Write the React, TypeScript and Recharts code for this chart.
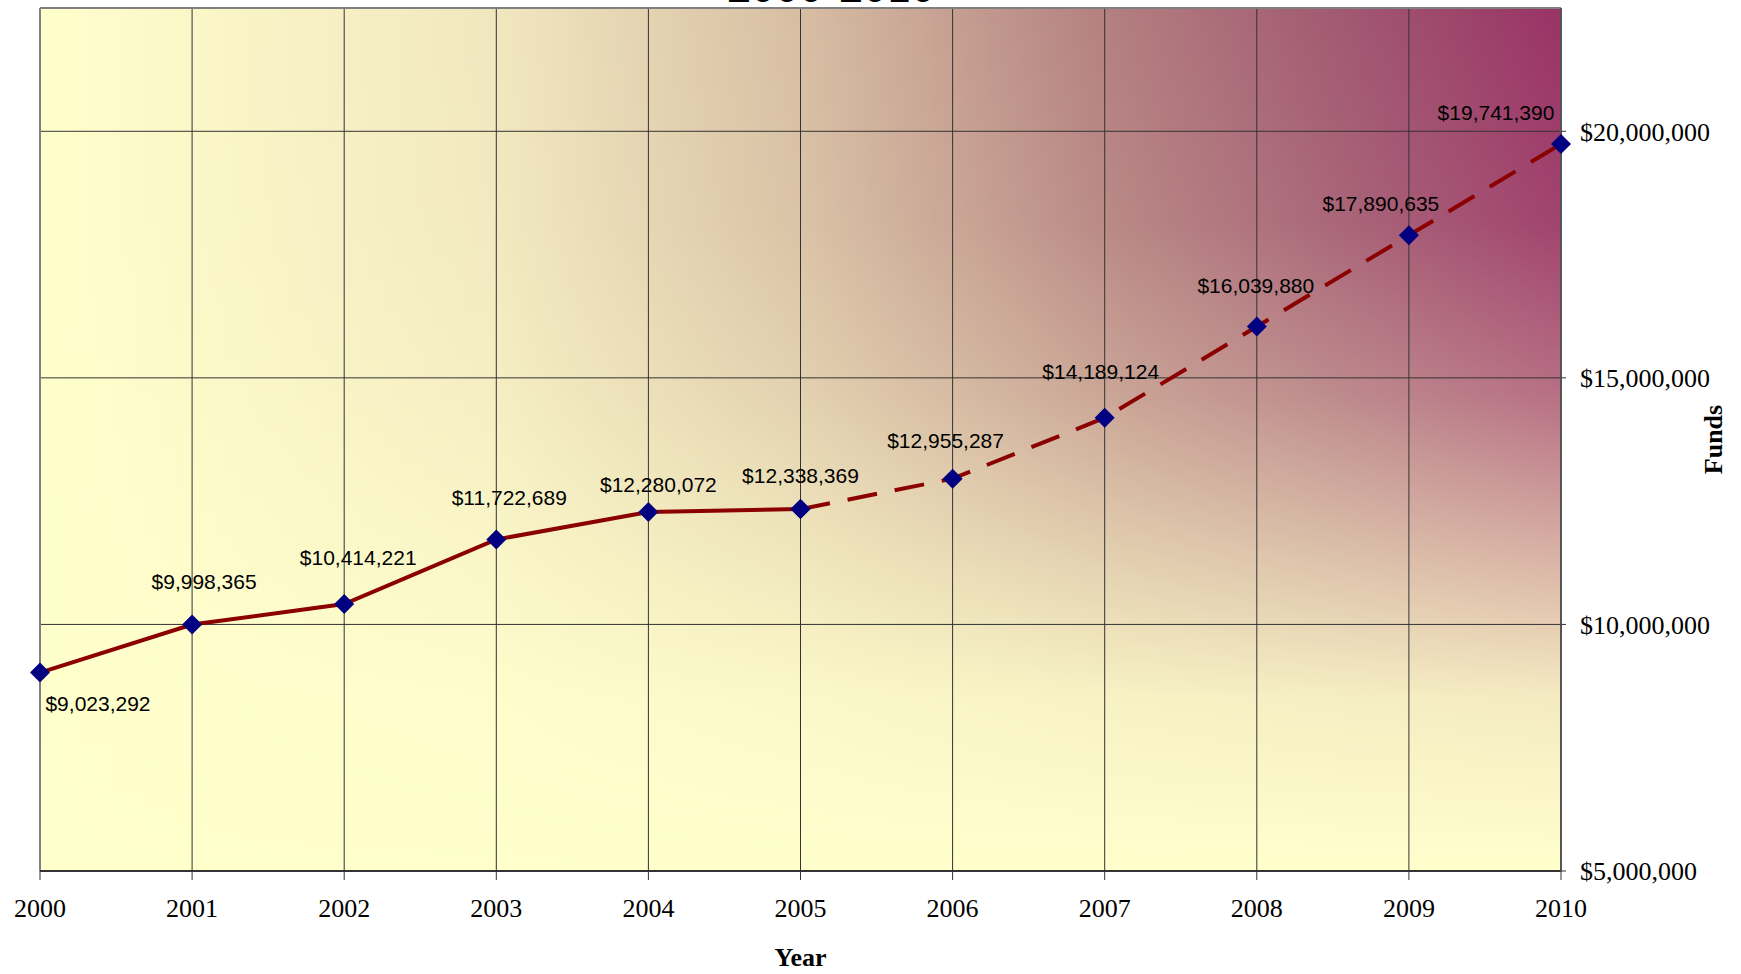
import React from "react";
import {
  LineChart,
  Line,
  XAxis,
  YAxis,
  CartesianGrid,
  ReferenceLine,
  LabelList,
  Label,
  Customized,
} from "recharts";

// fund values by year, solid part = actual, dashed part = projected
const years = ["2000", "2001", "2002", "2003", "2004", "2005", "2006", "2007", "2008", "2009", "2010"];
const actualFunds = [9023292, 9998365, 10414221, 11722689, 12280072, 12338369, null, null, null, null, null];
const projectedFunds = [null, null, null, null, null, 12338369, 12955287, 14189124, 16039880, 17890635, 19741390];
const fundTicks = [5000000, 10000000, 15000000, 20000000];
const title = "2000-2010";

// hand placed label offsets (dx, dy of label centre vs. point)
const labelNudge: [number, number][] = [
  [58, 31], [12, -43], [14, -46], [13, -42], [10, -27], [0, -33],
  [-7, -38], [-4, -46], [-1, -41], [-28, -32], [-65, -31],
];

const data = years.map((year, i) => ({
  year,
  actual: actualFunds[i],
  projected: projectedFunds[i],
}));

const money = (v: number) => "$" + v.toLocaleString("en-US");

const LINE = "#8b0000";
const serif = "'Liberation Serif', 'Times New Roman', serif";
const sans = "'Liberation Sans', Arial, sans-serif";

const Diamond = (props: any) => {
  const { cx, cy, index } = props;
  if (cx == null || cy == null || props.value == null) return <g key={index} />;
  const r = 10;
  return (
    <polygon
      key={index}
      points={`${cx},${cy - r} ${cx + r},${cy} ${cx},${cy + r} ${cx - r},${cy}`}
      fill="#000080"
    />
  );
};

const makeLabel = (skip: number[]) => (props: any) => {
  const { x, y, value, index } = props;
  if (value == null || skip.includes(index)) return null;
  const [dx, dy] = labelNudge[index];
  return (
    <text
      x={x + dx}
      y={y + dy}
      dy="0.35em"
      textAnchor="middle"
      fontFamily={sans}
      fontSize={21}
      fill="#000"
    >
      {money(value)}
    </text>
  );
};

const Title = () => (
  <text x={831} y={2} textAnchor="middle" fontFamily={serif} fontSize={48} fontWeight="bold" fill="#000">
    {title}
  </text>
);

export default function App() {
  return (
    <div style={{ position: "absolute", left: 0, top: 0, background: "#fff" }}>
      <LineChart
        width={1741}
        height={974}
        data={data}
        margin={{ top: 8, right: 20, bottom: 13, left: 40 }}
      >
        <defs>
          <linearGradient id="hGrad" x1="0" y1="0" x2="1" y2="0">
            <stop offset="0" stopColor="#ffffcc" />
            <stop offset="0.3" stopColor="#f1e7bf" />
            <stop offset="0.5" stopColor="#d7bea3" />
            <stop offset="0.7" stopColor="#b48080" />
            <stop offset="0.85" stopColor="#a25a72" />
            <stop offset="1" stopColor="#993366" />
          </linearGradient>
          <linearGradient id="vGrad" x1="0" y1="0" x2="0" y2="1">
            <stop offset="0" stopColor="#ffffcc" stopOpacity={0} />
            <stop offset="0.25" stopColor="#ffffcc" stopOpacity={0.08} />
            <stop offset="0.45" stopColor="#ffffcc" stopOpacity={0.3} />
            <stop offset="0.65" stopColor="#ffffcc" stopOpacity={0.65} />
            <stop offset="0.8" stopColor="#ffffcc" stopOpacity={0.9} />
            <stop offset="1" stopColor="#ffffcc" stopOpacity={1} />
          </linearGradient>
        </defs>
        <CartesianGrid fill="url(#hGrad)" horizontal={false} vertical={false} />
        <CartesianGrid fill="url(#vGrad)" stroke="#333" strokeWidth={1} />
        <ReferenceLine y={22500000} stroke="#808080" strokeWidth={2} />
        <ReferenceLine x="2000" stroke="#808080" strokeWidth={2} />
        <XAxis
          dataKey="year"
          height={90}
          tickSize={9}
          tickMargin={19}
          stroke="#333"
          strokeWidth={2}
          tick={{ fontFamily: serif, fontSize: 26, fill: "#000" }}
          tickLine={{ stroke: "#333", strokeWidth: 1 }}
        >
          <Label
            content={({ viewBox }: any) => (
              <text
                x={viewBox.x + viewBox.width / 2}
                y={viewBox.y + 95}
                textAnchor="middle"
                fontFamily={serif}
                fontSize={26}
                fontWeight="bold"
                fill="#000"
              >
                Year
              </text>
            )}
          />
        </XAxis>
        <YAxis
          orientation="right"
          width={160}
          domain={[5000000, 22500000]}
          ticks={fundTicks}
          tickFormatter={money}
          tickSize={5}
          tickMargin={14}
          stroke="#555"
          strokeWidth={2}
          tick={{ fontFamily: serif, fontSize: 26, fill: "#000" }}
          tickLine={{ stroke: "#333", strokeWidth: 1 }}
        >
          <Label
            content={({ viewBox }: any) => {
              const cx = viewBox.x + 152;
              const cy = viewBox.y + viewBox.height / 2;
              return (
                <text
                  x={cx}
                  y={cy}
                  transform={`rotate(-90 ${cx} ${cy})`}
                  textAnchor="middle"
                  dominantBaseline="central"
                  fontFamily={serif}
                  fontSize={26}
                  fontWeight="bold"
                  fill="#000"
                >
                  Funds
                </text>
              );
            }}
          />
        </YAxis>
        <Line
          dataKey="actual"
          stroke={LINE}
          strokeWidth={4}
          dot={Diamond}
          activeDot={false}
          isAnimationActive={false}
        >
          <LabelList dataKey="actual" content={makeLabel([])} />
        </Line>
        <Line
          dataKey="projected"
          stroke={LINE}
          strokeWidth={4}
          strokeDasharray="30 18"
          dot={Diamond}
          activeDot={false}
          isAnimationActive={false}
        >
          <LabelList dataKey="projected" content={makeLabel([5])} />
        </Line>
        <Customized component={Title} />
      </LineChart>
    </div>
  );
}
